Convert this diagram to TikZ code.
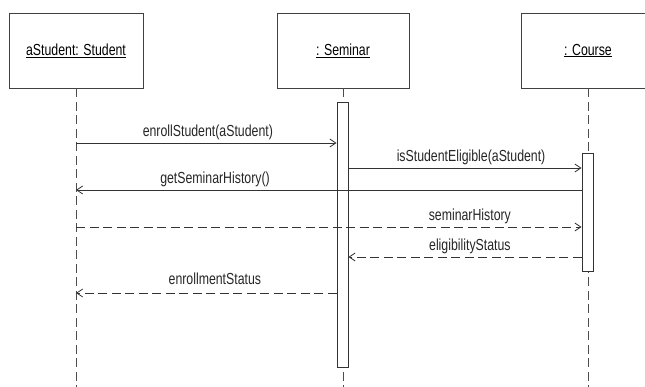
\documentclass[tikz,border=0pt]{standalone}
\usepackage{fontspec}
\setmainfont{Liberation Sans}[FakeStretch=0.77]
\usetikzlibrary{positioning, arrows.meta}

\begin{document}
\begin{tikzpicture}[x=1pt, y=-1pt,
    font=\fontsize{16}{19}\selectfont,
    object/.style={draw=black!75, line width=0.9pt, minimum height=75pt, inner sep=0pt},
    lifeline/.style={draw=black!70, line width=0.9pt, dash pattern=on 9pt off 4.5pt},
    activation/.style={draw=black!80, fill=white, line width=0.9pt, minimum width=11pt, inner sep=0pt},
    call/.style={draw=black!80, line width=0.8pt, -{Straight Barb[length=6pt, width=8pt]}},
    reply/.style={call, dash pattern=on 9pt off 4.5pt},
    msg/.style={anchor=base, yshift=6.5pt, inner sep=0pt, text=black!85}]
    \useasboundingbox (0,0) rectangle (645,387);
    \clip (0,0) rectangle (645,387);

    % Objects
    \node[object, minimum width=134pt] (student) at (76,50.5) {\underline{aStudent: Student}};
    \node[object, minimum width=132pt] (seminar) at (343,50.5) {\underline{: Seminar}};
    \node[object, minimum width=134pt] (course) at (588,50.5) {\underline{: Course}};

    % Lifeline ends
    \coordinate (studentEnd) at (76,387);
    \coordinate (seminarEnd) at (343,387);
    \coordinate (courseEnd) at (588,387);

    % Lifelines
    \draw[lifeline] (student.south) -- (studentEnd);
    \draw[lifeline] (seminar.south) -- (seminarEnd);
    \draw[lifeline] (course.south) -- (courseEnd);

    % Activations
    \node[activation, minimum height=265pt] (seminarAct) at (342.5,234.5) {};
    \node[activation, minimum height=118pt] (courseAct) at (587.5,212) {};

    % Message rows
    \coordinate (r1) at (0,143);
    \coordinate (r2) at (0,168);
    \coordinate (r3) at (0,190);
    \coordinate (r4) at (0,227);
    \coordinate (r5) at (0,257);
    \coordinate (r6) at (0,293);

    % Messages
    \draw[call] (student |- r1) -- node[msg, pos=0.506] {enrollStudent(aStudent)} (seminarAct.west |- r1);
    \draw[call] (seminarAct.east |- r2) -- node[msg, pos=0.526] {isStudentEligible(aStudent)} (courseAct.west |- r2);
    \draw[call] (courseAct.west |- r3) -- node[msg, pos=0.725] {getSeminarHistory()} (student |- r3);
    \draw[reply] (student |- r4) -- node[msg, pos=0.779] {seminarHistory} (courseAct.west |- r4);
    \draw[reply] (courseAct.west |- r5) -- node[msg, pos=0.479] {eligibilityStatus} (seminarAct.east |- r5);
    \draw[reply] (seminarAct.west |- r6) -- node[msg, pos=0.467, yshift=2pt] {enrollmentStatus} (student |- r6);
\end{tikzpicture}
\end{document}
